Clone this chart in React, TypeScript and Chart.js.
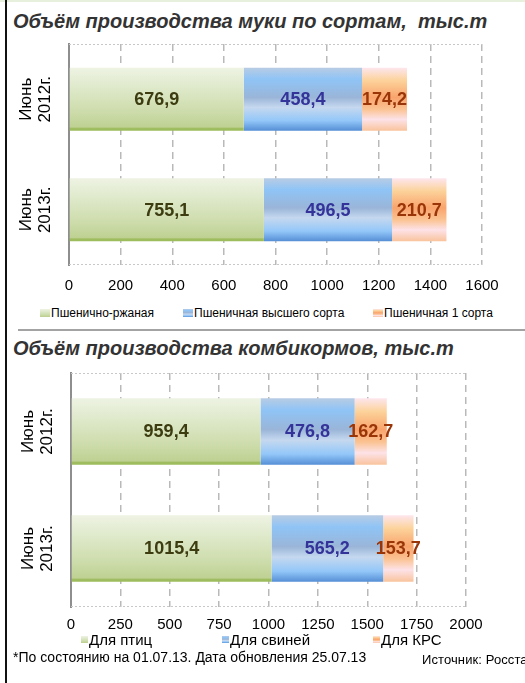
import React, { useEffect, useRef } from 'react';
import { Chart, registerables } from 'chart.js';

Chart.register(...registerables);

// ---------------- data ----------------
const categories: string[][] = [['Июнь', '2012г.'], ['Июнь', '2013г.']];

const flourTitle = 'Объём производства муки по сортам,  тыс.т';
const flourSeries = ['Пшенично-ржаная', 'Пшеничная высшего сорта', 'Пшеничная 1 сорта'];
const flourWheatRye = [676.9, 755.1];
const flourPremium = [458.4, 496.5];
const flourFirstGrade = [174.2, 210.7];
const flourAxisMax = 1600;
const flourAxisStep = 200;

const feedTitle = 'Объём производства комбикормов, тыс.т';
const feedSeries = ['Для птиц', 'Для свиней', 'Для КРС'];
const feedPoultry = [959.4, 1015.4];
const feedPigs = [476.8, 565.2];
const feedCattle = [162.7, 153.7];
const feedAxisMax = 2000;
const feedAxisStep = 250;

const footnote = '*По состоянию на 01.07.13. Дата обновления 25.07.13';
const sourceNote = 'Источник: Росстат';

// ---------------- styles ----------------
const W = 525;
const H = 683;
const FONT = '"Liberation Sans", Arial, Helvetica, sans-serif';
const CAT_PCT = 0.57;

const greenStops: [number, string][] = [
  [0, '#eef3e3'], [0.35, '#dde8c8'], [0.7, '#cddcab'], [0.94, '#bfd193'], [0.965, '#9fbd60'], [1, '#9bbb59'],
];
const blueStops: [number, string][] = [
  [0, '#b8cce4'], [0.18, '#8fc4f6'], [0.47, '#9ab5d8'], [0.63, '#c5d8ef'], [0.84, '#93c7f9'], [1, '#558ed5'],
];
const orangeStops: [number, string][] = [
  [0, '#fde6ee'], [0.2, '#fcd39b'], [0.47, '#f9a46d'], [0.66, '#fbc393'], [0.82, '#fde2e8'], [1, '#f9c39c'],
];
const stopsSet = [greenStops, blueStops, orangeStops];
const labelColors = ['#3c3c10', '#333399', '#9a3508'];

const cssGradient = (stops: [number, string][]) =>
  `linear-gradient(to bottom, ${stops.map(([o, c]) => `${c} ${Math.round(o * 100)}%`).join(', ')})`;

function barGradient(stops: [number, string][]) {
  return (c: any) => {
    const chart = c.chart;
    const area = chart.chartArea;
    if (!area || c.type !== 'data' || !chart.scales.y) return stops[2][1];
    const ys = chart.scales.y;
    const yc = ys.getPixelForValue(c.dataIndex);
    const n = chart.data.labels.length;
    const band = (area.bottom - area.top) / n;
    const h = band * CAT_PCT;
    const g = chart.ctx.createLinearGradient(0, yc - h / 2, 0, yc + h / 2);
    stops.forEach(([o, col]) => g.addColorStop(o, col));
    return g;
  };
}

const fmt = (v: number) => v.toFixed(1).replace('.', ',');

const valueLabels = {
  id: 'valueLabels',
  afterDatasetsDraw(chart: any, _args: any, opts: any) {
    const ctx = chart.ctx;
    chart.data.datasets.forEach((ds: any, di: number) => {
      const meta = chart.getDatasetMeta(di);
      meta.data.forEach((el: any, i: number) => {
        const { x, y, base } = el.getProps(['x', 'y', 'base'], true);
        ctx.save();
        ctx.font = `bold 18px ${FONT}`;
        ctx.fillStyle = opts.colors[di];
        ctx.textAlign = 'center';
        ctx.textBaseline = 'middle';
        ctx.fillText(fmt(ds.data[i]), (x + base) / 2, y + 1);
        ctx.restore();
      });
    });
  },
};

// category labels: rotated two-line text left of the axis
const categoryLabels = {
  id: 'categoryLabels',
  afterDraw(chart: any) {
    const ctx = chart.ctx;
    const ys = chart.scales.y;
    const area = chart.chartArea;
    const cx = area.left - 33.5;
    (chart.data.labels as string[][]).forEach((lines, i) => {
      const cy = ys.getPixelForValue(i);
      ctx.save();
      ctx.translate(cx, cy);
      ctx.rotate(-Math.PI / 2);
      ctx.font = `17px ${FONT}`;
      ctx.fillStyle = '#000';
      ctx.textAlign = 'center';
      ctx.textBaseline = 'middle';
      const lh = 19;
      lines.forEach((t, k) => ctx.fillText(t, 0, (k - (lines.length - 1) / 2) * lh));
      ctx.restore();
    });
  },
};

// value-axis tick labels drawn at each tick of the x scale
const valueTicks = {
  id: 'valueTicks',
  afterDraw(chart: any, _args: any, opts: any) {
    const ctx = chart.ctx;
    const xs = chart.scales.x;
    const area = chart.chartArea;
    ctx.save();
    ctx.font = `15px ${FONT}`;
    ctx.fillStyle = '#000';
    ctx.textAlign = 'center';
    ctx.textBaseline = 'middle';
    xs.ticks.forEach((t: any) => {
      ctx.fillText(String(t.value), xs.getPixelForValue(t.value), area.bottom + opts.offset);
    });
    ctx.restore();
  },
};

const plotFrame = {
  id: 'plotFrame',
  beforeDatasetsDraw(chart: any) {
    const { ctx, chartArea: a } = chart;
    ctx.save();
    ctx.strokeStyle = '#c8c8c8';
    ctx.lineWidth = 1;
    ctx.setLineDash([2, 2]);
    ctx.beginPath();
    ctx.moveTo(a.left, a.top + 0.5);
    ctx.lineTo(a.right, a.top + 0.5);
    ctx.moveTo(a.left, a.bottom - 0.5);
    ctx.lineTo(a.right, a.bottom - 0.5);
    ctx.stroke();
    ctx.restore();
  },
};

type PanelProps = {
  names: string[];
  values: number[][];
  max: number;
  step: number;
  canvasTop: number;
  canvasHeight: number;
  area: { left: number; right: number; top: number; bottom: number };
  tickOffset: number;
};

function Panel(p: PanelProps) {
  const ref = useRef<HTMLCanvasElement>(null);
  useEffect(() => {
    const canvas = ref.current!;
    const chart = new Chart(canvas, {
      type: 'bar',
      data: {
        labels: categories as any,
        datasets: p.names.map((name, i) => ({
          label: name,
          data: p.values[i],
          backgroundColor: barGradient(stopsSet[i]) as any,
          borderWidth: 0,
          categoryPercentage: CAT_PCT,
          barPercentage: 1,
        })),
      },
      options: {
        indexAxis: 'y',
        responsive: false,
        animation: false,
        events: [],
        layout: {
          padding: {
            top: p.area.top - p.canvasTop,
            right: W - p.area.right,
            left: 0,
            bottom: 0,
          },
        },
        scales: {
          x: {
            type: 'linear',
            stacked: true,
            min: 0,
            max: p.max,
            afterFit: (s: any) => {
              s.height = p.canvasTop + p.canvasHeight - p.area.bottom;
            },
            ticks: {
              stepSize: p.step,
              display: false,
            },
            grid: {
              drawTicks: false,
              lineWidth: 1.5,
              color: (c: any) => (c.tick && c.tick.value === 0 ? 'rgba(0,0,0,0)' : '#b9b9b9'),
            },
            border: { display: false, dash: [7, 5] },
          },
          y: {
            type: 'category',
            stacked: true,
            afterFit: (s: any) => {
              s.width = p.area.left;
            },
            ticks: { display: false },
            grid: { display: false },
            border: { display: true, color: '#8e8e8e', width: 2 },
          },
        },
        plugins: {
          legend: { display: false },
          tooltip: { enabled: false },
          title: { display: false },
          valueLabels: { colors: labelColors },
          valueTicks: { offset: p.tickOffset },
        } as any,
      },
      plugins: [plotFrame, valueLabels, categoryLabels, valueTicks],
    });
    return () => chart.destroy();
  }, []);
  return (
    <canvas
      ref={ref}
      width={W}
      height={p.canvasHeight}
      style={{ position: 'absolute', left: 0, top: p.canvasTop, width: W, height: p.canvasHeight }}
    />
  );
}

function Legend(props: { names: string[]; lefts: number[]; top: number; size: number; box: [number, number]; gap: number }) {
  return (
    <>
      {props.names.map((n, i) => (
        <div
          key={n}
          style={{
            position: 'absolute',
            left: props.lefts[i],
            top: props.top,
            display: 'flex',
            alignItems: 'center',
            fontFamily: FONT,
            fontSize: props.size,
            lineHeight: `${props.size + 2}px`,
            color: '#000',
            whiteSpace: 'nowrap',
          }}
        >
          <span
            style={{
              display: 'inline-block',
              width: props.box[0],
              height: props.box[1],
              marginRight: props.gap,
              background: cssGradient(stopsSet[i]),
            }}
          />
          {n}
        </div>
      ))}
    </>
  );
}

const titleStyle: React.CSSProperties = {
  position: 'absolute',
  left: 13,
  fontFamily: FONT,
  fontWeight: 'bold',
  fontStyle: 'italic',
  fontSize: 20,
  lineHeight: '20px',
  color: '#333333',
  whiteSpace: 'pre',
};

export default function App() {
  return (
    <div
      style={{
        position: 'absolute',
        left: 0,
        top: 0,
        width: W,
        height: H,
        overflow: 'hidden',
        background: '#fff',
      }}
    >
      <div style={{ position: 'absolute', left: 0, top: 0, width: W, height: 2, background: '#e6f0dc' }} />
      <div style={{ position: 'absolute', left: 5, top: 0, width: 2, height: H, background: '#111' }} />
      <div style={{ ...titleStyle, top: 11 }}>{flourTitle}</div>
      <Panel
        names={flourSeries}
        values={[flourWheatRye, flourPremium, flourFirstGrade]}
        max={flourAxisMax}
        step={flourAxisStep}
        canvasTop={40}
        canvasHeight={262}
        area={{ left: 69, right: 482, top: 44, bottom: 265 }}
        tickOffset={21}
      />
      <Legend names={flourSeries} lefts={[40, 183, 373]} top={306} size={12} box={[10, 8]} gap={1} />
      <div style={{ position: 'absolute', left: 18, top: 329, width: W - 18, height: 2, background: '#a3a3a3' }} />
      <div style={{ ...titleStyle, top: 338 }}>{feedTitle}</div>
      <Panel
        names={feedSeries}
        values={[feedPoultry, feedPigs, feedCattle]}
        max={feedAxisMax}
        step={feedAxisStep}
        canvasTop={365}
        canvasHeight={270}
        area={{ left: 71, right: 466, top: 373, bottom: 607 }}
        tickOffset={18}
      />
      <Legend names={feedSeries} lefts={[81, 222, 373]} top={631} size={15} box={[7, 7]} gap={1} />
      <div
        style={{
          position: 'absolute',
          left: 13,
          top: 649,
          fontFamily: FONT,
          fontSize: 14,
          lineHeight: '16px',
          color: '#000',
          whiteSpace: 'nowrap',
        }}
      >
        {footnote}
      </div>
      <div
        style={{
          position: 'absolute',
          left: 422,
          top: 652,
          fontFamily: FONT,
          fontSize: 13,
          letterSpacing: 0.1,
          lineHeight: '15px',
          color: '#000',
          whiteSpace: 'nowrap',
        }}
      >
        {sourceNote}
      </div>
    </div>
  );
}
